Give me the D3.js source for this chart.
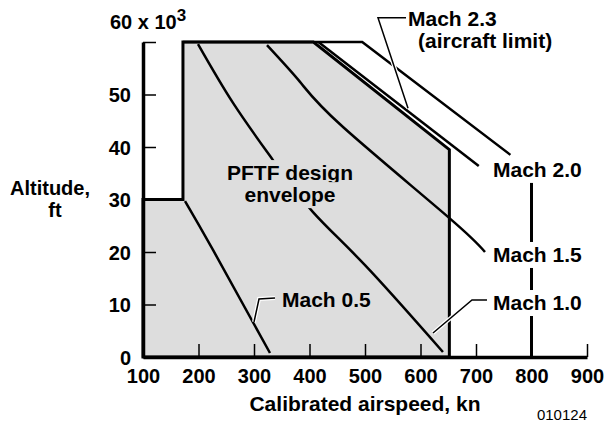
<!DOCTYPE html>
<html>
<head>
<meta charset="utf-8">
<script src="https://cdn.jsdelivr.net/npm/d3@7"></script>
<style>
  body { margin: 0; background: #fff; }
  svg text { font-family: "Liberation Sans", Arial, sans-serif; font-weight: bold; fill: #000; }
</style>
</head>
<body>
<svg id="chart" width="613" height="423"></svg>
<script>
// axis ticks
var xTicks = [100, 200, 300, 400, 500, 600, 700, 800, 900];
var yTicks = [0, 10, 20, 30, 40, 50, 60];

// [airspeed kn, altitude x1000 ft]
var envelope = [[100, 0], [100, 30], [172, 30], [172, 60], [407, 60], [652, 39.5], [652, 0]];
var aircraftLimit = [[172, 60], [495, 60], [762, 38.5]];
var limit800 = [[800, 33.6], [800, 0]];
var mach2 = [[416, 60], [705, 36.4]];
var mach15 = [[323.4, 59.4], [382.9, 52.4], [460.4, 43.8], [649.5, 26.7], [716.2, 20.0]];
var mach10 = [[199.1, 59.6], [262.2, 48.4], [334.2, 37.5], [406.3, 27.6], [500, 17.5], [640.5, 0.95]];
var mach05 = [[175.7, 29.7], [226.1, 20.4], [328.8, 0.76]];

// leader lines
var lead23 = [[577.5, 47.4], [523.4, 64.6], [573.9, 64.6]];
var lead10 = [[622.5, 4.57], [692.8, 10.86], [719.8, 10.86]];
var lead05 = [[300, 6.67], [309, 11.05], [337.8, 11.24]];

var svg = d3.select("#chart");

var x = d3.scaleLinear().domain([100, 900]).range([143, 587]);
var y = d3.scaleLinear().domain([0, 60]).range([357, 42]);

var line = d3.line().x(function(d) { return x(d[0]); }).y(function(d) { return y(d[1]); });
var curve = d3.line().x(function(d) { return x(d[0]); }).y(function(d) { return y(d[1]); })
    .curve(d3.curveNatural);

// envelope
svg.append("path")
    .attr("d", line(envelope) + "Z")
    .attr("fill", "#dddddd")
    .attr("stroke", "#000")
    .attr("stroke-width", 3)
    .attr("stroke-linejoin", "miter");

// mach curves
[mach15, mach10, mach05].forEach(function(c) {
    svg.append("path").attr("d", curve(c))
        .attr("fill", "none").attr("stroke", "#000").attr("stroke-width", 2.5);
});
[aircraftLimit, mach2].forEach(function(c) {
    svg.append("path").attr("d", line(c))
        .attr("fill", "none").attr("stroke", "#000").attr("stroke-width", 2.5);
});
svg.append("path").attr("d", line(limit800))
    .attr("fill", "none").attr("stroke", "#000").attr("stroke-width", 3);

// axes
var gx = svg.append("g")
    .attr("transform", "translate(0," + y(0) + ")")
    .call(d3.axisBottom(x).tickValues(xTicks).tickSizeInner(-13).tickSizeOuter(0).tickPadding(12));
gx.select(".domain").attr("stroke-width", 3.5);
gx.selectAll(".tick line").attr("stroke-width", 1.5)
    .filter(function(d) { return d === 100; }).remove();
gx.selectAll("text").attr("font-size", 20).attr("dy", "0.72em");

var gy = svg.append("g")
    .attr("transform", "translate(" + x(100) + ",0)")
    .call(d3.axisLeft(y).tickValues(yTicks).tickSizeInner(-13).tickSizeOuter(0).tickPadding(12)
        .tickFormat(function(d) { return d === 60 ? "" : d; }));
gy.select(".domain").attr("stroke-width", 3.5);
gy.selectAll(".tick line").attr("stroke-width", 1.5);
gy.selectAll("text").attr("font-size", 20).attr("dy", "0.36em");
svg.selectAll(".tick text").style("font-family", "'Liberation Sans', Arial, sans-serif").style("font-weight", "bold");

var topLabel = svg.append("text").attr("x", 110).attr("y", 29).attr("font-size", 20);
topLabel.append("tspan").text("60 x 10");
topLabel.append("tspan").attr("dy", -8).attr("font-size", 17).text("3");

// axis titles
svg.append("text").attr("x", 50).attr("y", 195).attr("text-anchor", "middle")
    .attr("font-size", 20).text("Altitude,");
svg.append("text").attr("x", 55).attr("y", 217).attr("text-anchor", "middle")
    .attr("font-size", 20).text("ft");
svg.append("text").attr("x", 365).attr("y", 411).attr("text-anchor", "middle")
    .attr("font-size", 21).text("Calibrated airspeed, kn");
svg.append("text").attr("x", 587).attr("y", 420).attr("text-anchor", "end")
    .attr("font-size", 15).style("font-weight", "normal").text("010124");

// labels with background that breaks the lines
function label(txt, kn, alt, anchor, bg) {
    var t = svg.append("text").attr("x", x(kn)).attr("y", y(alt))
        .attr("text-anchor", anchor || "start").attr("font-size", 21).text(txt);
    if (bg) {
        var b = t.node().getBBox();
        svg.insert("rect", function() { return t.node(); })
            .attr("x", b.x - 3).attr("y", b.y - 1)
            .attr("width", b.width + 6).attr("height", b.height + 3)
            .attr("fill", bg);
    }
    return t;
}

label("PFTF design", 364.9, 33.7, "middle", "#dddddd");
label("envelope", 364.9, 29.5, "middle", "#dddddd");
label("Mach 2.0", 730.6, 34.3, "start", "#fff");
label("Mach 1.5", 730.6, 18.1, "start", "#fff");
label("Mach 1.0", 730.6, 8.95, "start", "#fff");
label("Mach 0.5", 350.5, 9.52, "start", null);
label("Mach 2.3", 577.5, 63.05, "start", null);
label("(aircraft limit)", 595.5, 58.86, "start", null);

// leader lines
[lead23, lead10, lead05].forEach(function(c) {
    svg.append("path").attr("d", line(c))
        .attr("fill", "none").attr("stroke", "#fff").attr("stroke-width", 4);
    svg.append("path").attr("d", line(c))
        .attr("fill", "none").attr("stroke", "#000").attr("stroke-width", 1.5);
});
</script>
</body>
</html>
